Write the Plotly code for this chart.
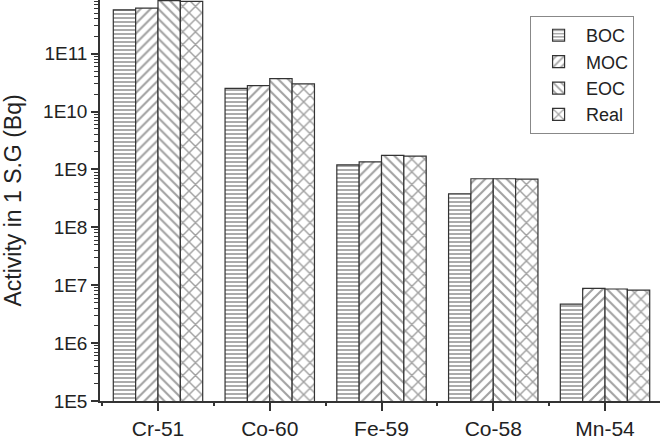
import plotly.graph_objects as go

categories = ["Cr-51", "Co-60", "Fe-59", "Co-58", "Mn-54"]
series_names = ["BOC", "MOC", "EOC", "Real"]
boc = [5.7e11, 2.5e10, 1.2e9, 3.8e8, 4.7e6]
moc = [6.1e11, 2.8e10, 1.35e9, 6.9e8, 8.8e6]
eoc = [8.2e11, 3.7e10, 1.75e9, 6.9e8, 8.6e6]
real = [8.0e11, 3.0e10, 1.7e9, 6.8e8, 8.2e6]
ytick_labels = ["1E5", "1E6", "1E7", "1E8", "1E9", "1E10", "1E11"]

series_values = [boc, moc, eoc, real]
patterns = [
    dict(shape="-", size=4, solidity=0.45),
    dict(shape="/", size=7, solidity=0.3),
    dict(shape="\\", size=7, solidity=0.3),
    dict(shape="x", size=9, solidity=0.3),
]

xpos = list(range(len(categories)))
fig = go.Figure()
for name, vals, pat in zip(series_names, series_values, patterns):
    fig.add_trace(go.Bar(
        x=xpos, y=vals, name=name,
        marker=dict(color="white",
                    line=dict(color="#333", width=1.2),
                    pattern=dict(fgcolor="#444", bgcolor="white", fillmode="overlay", **pat)),
    ))

tickvals_y = [10 ** int(lbl.split("E")[1]) for lbl in ytick_labels]
minor_y = [m * 10 ** d for d in range(5, 12) for m in range(2, 10)]

font = "Liberation Sans, Arial, sans-serif"
fig.update_layout(
    width=660, height=440,
    margin=dict(l=100, r=0, t=0, b=36),
    paper_bgcolor="white", plot_bgcolor="white",
    barmode="group", bargap=0.2, bargroupgap=0,
    font=dict(family=font, color="#222", size=19),
    showlegend=True,
    legend=dict(x=0.768, y=0.96, xanchor="left", yanchor="top",
                bgcolor="white", bordercolor="#888", borderwidth=1,
                font=dict(size=18, color="#222"), tracegroupgap=0,
                itemwidth=45),
    xaxis=dict(range=[-0.519, 4.492], tickvals=xpos, ticktext=categories,
               showline=True, linecolor="#333", linewidth=1.5,
               ticks="outside", ticklen=8, tickwidth=1.5, tickcolor="#333",
               tickfont=dict(size=21), showgrid=False, zeroline=False,
               minor=dict(tick0=0.5, dtick=1, ticks="outside", ticklen=3,
                          tickwidth=1.5, tickcolor="#333", showgrid=False)),
    yaxis=dict(type="log", range=[5, 11.926],
               tickvals=tickvals_y, ticktext=ytick_labels,
               showline=True, linecolor="#333", linewidth=1.5,
               ticks="outside", ticklen=7, tickwidth=1.5, tickcolor="#333",
               tickfont=dict(size=19), showgrid=False, zeroline=False,
               title=dict(text="Activity in 1 S.G (Bq)", font=dict(size=23), standoff=18),
               minor=dict(tickmode="array", tickvals=minor_y, ticks="outside", ticklen=4,
                          tickwidth=1, tickcolor="#333", showgrid=False)),
)

fig.write_html("out.html")
